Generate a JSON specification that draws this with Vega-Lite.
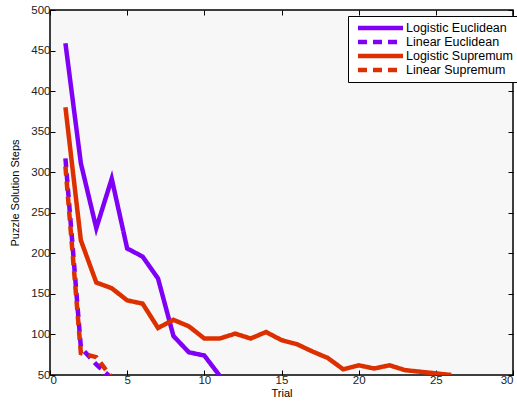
{
  "$schema": "https://vega.github.io/schema/vega-lite/v6.json",
  "width": 463,
  "height": 365,
  "autosize": {"type": "none"},
  "padding": {"left": 50, "top": 10, "right": 4, "bottom": 33},
  "background": "white",
  "config": {
    "font": "Liberation Sans",
    "view": {"fill": "#f7f7f7", "stroke": "black", "strokeWidth": 1.5},
    "axis": {"grid": false, "domain": false, "tickColor": "black", "tickSize": -5, "labelColor": "#222", "labelFontSize": 11.5, "labelFont": "Liberation Sans", "titleFont": "Liberation Sans", "titleFontSize": 11, "titleFontWeight": "normal", "titleColor": "black"},
    "legend": {"symbolType": "M-4.5,0H4.5", "symbolSize": 100, "symbolStrokeWidth": 4.5, "symbolOffset": 20, "labelOffset": 18, "labelFontSize": 12.5, "labelColor": "black", "strokeColor": "black", "fillColor": "white", "padding": 5, "rowPadding": 0, "clipHeight": 14, "title": null}
  },
  "data": {"values": [
    {"s": "Logistic Euclidean", "t": 1, "v": 459},
    {"s": "Logistic Euclidean", "t": 2, "v": 311},
    {"s": "Logistic Euclidean", "t": 3, "v": 231},
    {"s": "Logistic Euclidean", "t": 4, "v": 292},
    {"s": "Logistic Euclidean", "t": 5, "v": 206},
    {"s": "Logistic Euclidean", "t": 6, "v": 196},
    {"s": "Logistic Euclidean", "t": 7, "v": 169},
    {"s": "Logistic Euclidean", "t": 8, "v": 98},
    {"s": "Logistic Euclidean", "t": 9, "v": 78},
    {"s": "Logistic Euclidean", "t": 10, "v": 74},
    {"s": "Logistic Euclidean", "t": 11, "v": 49},
    {"s": "Linear Euclidean", "t": 1, "v": 317},
    {"s": "Linear Euclidean", "t": 2, "v": 84},
    {"s": "Linear Euclidean", "t": 3, "v": 63},
    {"s": "Linear Euclidean", "t": 4, "v": 46},
    {"s": "Logistic Supremum", "t": 1, "v": 380},
    {"s": "Logistic Supremum", "t": 2, "v": 216},
    {"s": "Logistic Supremum", "t": 3, "v": 164},
    {"s": "Logistic Supremum", "t": 4, "v": 157},
    {"s": "Logistic Supremum", "t": 5, "v": 142},
    {"s": "Logistic Supremum", "t": 6, "v": 138},
    {"s": "Logistic Supremum", "t": 7, "v": 108},
    {"s": "Logistic Supremum", "t": 8, "v": 118},
    {"s": "Logistic Supremum", "t": 9, "v": 110},
    {"s": "Logistic Supremum", "t": 10, "v": 95},
    {"s": "Logistic Supremum", "t": 11, "v": 95},
    {"s": "Logistic Supremum", "t": 12, "v": 101},
    {"s": "Logistic Supremum", "t": 13, "v": 95},
    {"s": "Logistic Supremum", "t": 14, "v": 103},
    {"s": "Logistic Supremum", "t": 15, "v": 93},
    {"s": "Logistic Supremum", "t": 16, "v": 88},
    {"s": "Logistic Supremum", "t": 17, "v": 79},
    {"s": "Logistic Supremum", "t": 18, "v": 71},
    {"s": "Logistic Supremum", "t": 19, "v": 57},
    {"s": "Logistic Supremum", "t": 20, "v": 62},
    {"s": "Logistic Supremum", "t": 21, "v": 58},
    {"s": "Logistic Supremum", "t": 22, "v": 62},
    {"s": "Logistic Supremum", "t": 23, "v": 56},
    {"s": "Logistic Supremum", "t": 24, "v": 54},
    {"s": "Logistic Supremum", "t": 25, "v": 52},
    {"s": "Logistic Supremum", "t": 26, "v": 50},
    {"s": "Linear Supremum", "t": 1, "v": 307},
    {"s": "Linear Supremum", "t": 2, "v": 77},
    {"s": "Linear Supremum", "t": 3, "v": 72},
    {"s": "Linear Supremum", "t": 4, "v": 47}
  ]},
  "layer": [
    {
      "mark": {"type": "line", "strokeWidth": 4.5, "clip": true},
      "encoding": {
        "x": {"field": "t", "type": "quantitative", "scale": {"domain": [0, 30], "nice": false}, "axis": {"title": "Trial", "values": [0,5,10,15,20,25,30], "labelPadding": 4, "titlePadding": 2}},
        "y": {"field": "v", "type": "quantitative", "scale": {"domain": [50, 500], "nice": false}, "axis": {"title": "Puzzle Solution Steps", "values": [50,100,150,200,250,300,350,400,450,500], "labelPadding": 5, "titlePadding": 10}},
        "color": {"field": "s", "type": "nominal", "sort": ["Logistic Euclidean", "Linear Euclidean", "Logistic Supremum", "Linear Supremum"],
          "scale": {"domain": ["Logistic Euclidean", "Linear Euclidean", "Logistic Supremum", "Linear Supremum"], "range": ["#7f00f5", "#7f00f5", "#dd3000", "#dd3000"]},
          "legend": {"orient": "none", "legendX": 298, "legendY": 6}},
        "strokeDash": {"field": "s", "type": "nominal", "sort": ["Logistic Euclidean", "Linear Euclidean", "Logistic Supremum", "Linear Supremum"],
          "scale": {"domain": ["Logistic Euclidean", "Linear Euclidean", "Logistic Supremum", "Linear Supremum"], "range": [[1, 0], [9, 6], [1, 0], [9, 6]]},
          "legend": {"orient": "none", "legendX": 298, "legendY": 6}}
      }
    },
    {
      "mark": {"type": "line", "opacity": 0},
      "encoding": {
        "x": {"field": "t", "type": "quantitative", "axis": {"orient": "top", "labels": false, "title": null, "values": [0,5,10,15,20,25,30]}},
        "y": {"field": "v", "type": "quantitative", "axis": {"orient": "right", "labels": false, "title": null, "values": [50,100,150,200,250,300,350,400,450,500]}}
      }
    }
  ],
  "resolve": {"axis": {"x": "independent", "y": "independent"}}
}
